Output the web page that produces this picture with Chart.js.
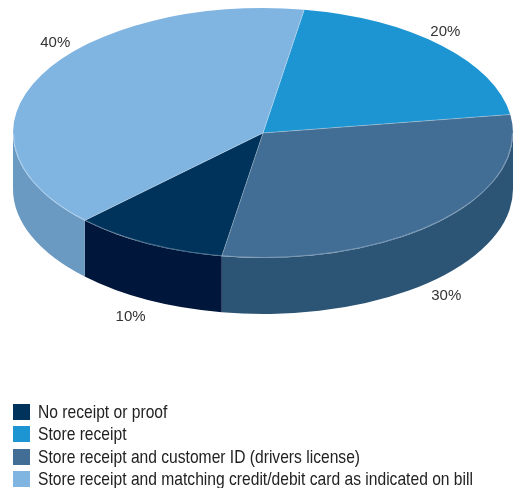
<!DOCTYPE html>
<html>
<head>
<meta charset="utf-8">
<script src="https://cdn.jsdelivr.net/npm/chart.js@4/dist/chart.umd.min.js"></script>
<style>
  html, body { margin: 0; padding: 0; background: #fff; }
  #wrap { position: relative; width: 514px; height: 488px; }
  #legend { position: absolute; left: 13px; top: 401px; margin: 0; padding: 0; list-style: none; }
  #legend li { position: relative; height: 22.33px; line-height: 22.33px; white-space: nowrap; }
  #legend .box { position: absolute; left: 0; top: 3px; width: 17px; height: 16px; }
  #legend .txt {
    position: absolute; left: 25px; top: 0;
    font: 18.6px 'Liberation Sans', Arial, sans-serif; color: #222;
    transform: scaleX(0.84); transform-origin: 0 50%;
  }
</style>
</head>
<body>
<div id="wrap">
  <canvas id="myChart"></canvas>
  <ul id="legend"></ul>
</div>
<script>
// slices in the order they run clockwise from the top
const categories = [
  "Store receipt",
  "Store receipt and customer ID (drivers license)",
  "No receipt or proof",
  "Store receipt and matching credit/debit card as indicated on bill"
];
const shares = [20, 30, 10, 40];
const topColors = ["#1e95d3", "#426d94", "#00335c", "#80b4e1"];
const sideColors = ["#1877aa", "#2c5475", "#00173b", "#6a9ac2"];
// small nudges so the % labels sit clear of the rim
const labelNudge = [[4, -14], [8, 18], [-17, 17], [14, -32]];

// where the tilted pie sits on the canvas
const face = { cx: 263, cy: 133, rx: 250, ry: 125, depth: 56 };

const pie3d = {
  id: "pie3d",
  beforeDatasetsDraw(chart) {
    const ctx = chart.ctx;
    const arcs = chart.getDatasetMeta(0).data;

    // side walls, only the front half of the rim is visible
    arcs.forEach((arc, i) => {
      const s = arc.startAngle, e = arc.endAngle;
      [-2 * Math.PI, 0, 2 * Math.PI].forEach(k => {
        const lo = Math.max(s, k), hi = Math.min(e, Math.PI + k);
        if (hi <= lo) return;
        ctx.beginPath();
        ctx.ellipse(face.cx, face.cy, face.rx, face.ry, 0, lo, hi);
        ctx.ellipse(face.cx, face.cy + face.depth, face.rx, face.ry, 0, hi, lo, true);
        ctx.closePath();
        ctx.fillStyle = sideColors[i];
        ctx.fill();
      });
    });

    // squash the circular pie into the top ellipse
    const a = arcs[0];
    ctx.save();
    ctx.translate(face.cx, face.cy);
    ctx.scale(face.rx / a.outerRadius, face.ry / a.outerRadius);
    ctx.translate(-a.x, -a.y);
  },
  afterDatasetsDraw(chart) {
    const ctx = chart.ctx;
    ctx.restore();
    const arcs = chart.getDatasetMeta(0).data;

    // faint highlight along the slice edges and the front rim
    ctx.save();
    ctx.strokeStyle = "rgba(255,255,255,0.3)";
    ctx.lineWidth = 1;
    arcs.forEach(arc => {
      ctx.beginPath();
      ctx.moveTo(face.cx, face.cy);
      ctx.lineTo(face.cx + Math.cos(arc.startAngle) * face.rx, face.cy + Math.sin(arc.startAngle) * face.ry);
      ctx.stroke();
    });
    ctx.beginPath();
    ctx.ellipse(face.cx, face.cy, face.rx - 0.5, face.ry - 0.5, 0, 0, Math.PI);
    ctx.stroke();
    ctx.restore();

    // percentage labels
    ctx.save();
    ctx.font = "15px 'Liberation Sans', Arial, sans-serif";
    ctx.fillStyle = "#333";
    ctx.textAlign = "center";
    ctx.textBaseline = "middle";
    arcs.forEach((arc, i) => {
      const mid = (arc.startAngle + arc.endAngle) / 2;
      const x = face.cx + Math.cos(mid) * face.rx;
      let y = face.cy + Math.sin(mid) * face.ry;
      if (Math.sin(mid) > 0) y += face.depth;
      ctx.fillText(shares[i] + "%", x + labelNudge[i][0], y + labelNudge[i][1]);
    });
    ctx.restore();
  }
};

// list legend, smallest share first
const htmlLegend = {
  id: "htmlLegend",
  afterUpdate(chart) {
    const ul = document.getElementById("legend");
    ul.innerHTML = "";
    const items = chart.options.plugins.legend.labels.generateLabels(chart);
    items.sort((a, b) => shares[a.index] - shares[b.index]);
    items.forEach(item => {
      const li = document.createElement("li");
      const box = document.createElement("span");
      box.className = "box";
      box.style.background = item.fillStyle;
      const txt = document.createElement("span");
      txt.className = "txt";
      txt.textContent = item.text;
      li.appendChild(box);
      li.appendChild(txt);
      ul.appendChild(li);
    });
  }
};

new Chart(document.getElementById("myChart"), {
  type: "pie",
  data: {
    labels: categories,
    datasets: [{
      data: shares,
      backgroundColor: topColors,
      borderWidth: 0,
      hoverOffset: 0,
      clip: false
    }]
  },
  options: {
    responsive: true,
    maintainAspectRatio: false,
    animation: false,
    rotation: 9.5,
    events: [],
    plugins: {
      tooltip: { enabled: false },
      legend: { display: false }
    }
  },
  plugins: [pie3d, htmlLegend]
});
</script>
</body>
</html>
